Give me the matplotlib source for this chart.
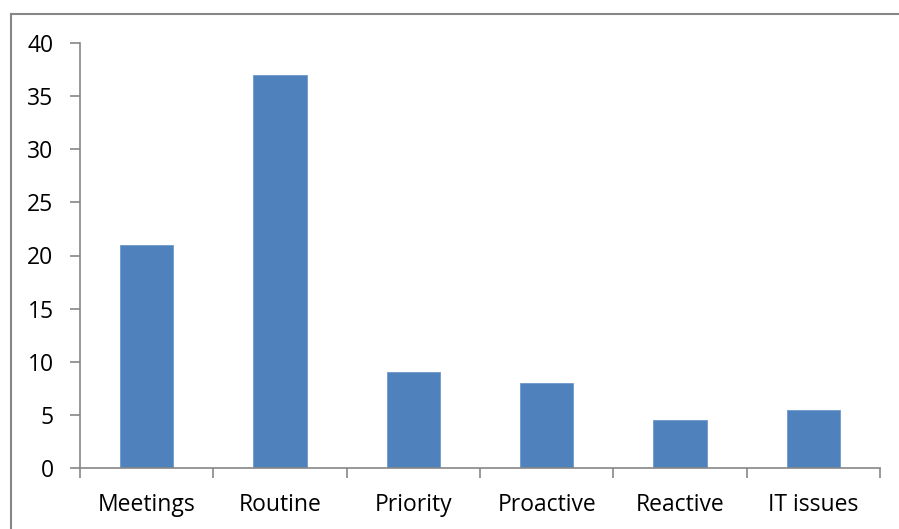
import matplotlib.pyplot as plt
from matplotlib.lines import Line2D

categories = ["Meetings", "Routine", "Priority", "Proactive", "Reactive", "IT issues"]
counts = [21, 37, 9, 8, 4.5, 5.5]
y_ticks = [0, 5, 10, 15, 20, 25, 30, 35, 40]

W, H = 899, 529
plt.rcParams["font.family"] = ["Open Sans", "DejaVu Sans"]

fig = plt.figure(figsize=(W / 100, H / 100), dpi=100)
ax = fig.add_axes([80 / W, 1 - 468 / H, 800 / W, 425 / H])

x = range(len(categories))
ax.bar(x, counts, width=0.4, color="#4F81BD", edgecolor="#6F98CC", linewidth=0.6, zorder=2)

ax.set_xlim(-0.5, len(categories) - 0.5)
ax.set_ylim(0, 40)
ax.set_yticks(y_ticks)
ax.set_yticklabels([str(v) for v in y_ticks], fontsize=16.5)

# category labels centred on bars, tick marks between categories
ax.set_xticks(list(x))
ax.set_xticklabels(categories, fontsize=16.5)
ax.tick_params(axis="x", length=0, pad=18)
ax.set_xticks([i - 0.5 for i in range(len(categories) + 1)], minor=True)
ax.tick_params(axis="x", which="minor", length=7, width=1.2, color="#868686", direction="out")
ax.tick_params(axis="y", length=7, width=1.2, color="#868686", direction="out", pad=12)

for side in ["top", "right"]:
    ax.spines[side].set_visible(False)
for side in ["left", "bottom"]:
    ax.spines[side].set_color("#868686")
    ax.spines[side].set_linewidth(1.2)

# outer frame: top and left edges
fig.add_artist(Line2D([11 / W, 898 / W], [1 - 14 / H, 1 - 14 / H], color="#868686", lw=1.5))
fig.add_artist(Line2D([11 / W, 11 / W], [1 - 14 / H, 0], color="#868686", lw=1.5))

fig.savefig("out.png", dpi=100)
